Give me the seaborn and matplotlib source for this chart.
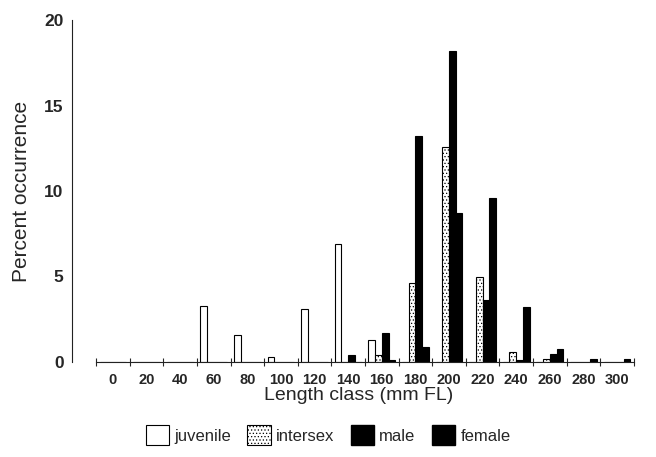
import numpy as np
import pandas as pd
import seaborn as sns
import matplotlib.pyplot as plt
from matplotlib.patches import Patch

# length classes (mm FL) and percent occurrence by group
length_classes = [0, 20, 40, 60, 80, 100, 120, 140, 160, 180, 200, 220, 240, 260, 280, 300]
juvenile = [0, 0, 0, 3.3, 1.6, 0.3, 3.1, 6.9, 1.3, 0, 0, 0, 0, 0, 0, 0]
intersex = [0, 0, 0, 0, 0, 0, 0, 0, 0.4, 4.6, 12.6, 5.0, 0.6, 0.15, 0, 0]
male = [0, 0, 0, 0, 0, 0, 0, 0.4, 1.7, 13.2, 18.2, 3.6, 0.1, 0.45, 0, 0]
female = [0, 0, 0, 0, 0, 0, 0, 0, 0.1, 0.9, 8.7, 9.6, 3.2, 0.75, 0.15, 0.15]

groups = ['juvenile', 'intersex', 'male', 'female']
colours = {'juvenile': 'white', 'intersex': 'white', 'male': 'black', 'female': 'black'}

df = pd.DataFrame({
    'length': [str(v) for v in length_classes] * 4,
    'group': np.repeat(groups, len(length_classes)),
    'percent': juvenile + intersex + male + female,
})

sns.set_style('white')
plt.rcParams['font.family'] = ['Liberation Sans', 'DejaVu Sans']
plt.rcParams['hatch.linewidth'] = 0.5

fig, ax = plt.subplots(figsize=(6.56, 4.57), dpi=100)
fig.subplots_adjust(left=72 / 656, right=1.0, bottom=1 - 362 / 457, top=1 - 20 / 457)

sns.barplot(
    data=df, x='length', y='percent', hue='group', hue_order=groups,
    palette=colours, width=0.8, errorbar=None, edgecolor='black',
    linewidth=0.8, legend=False, ax=ax,
)
# intersex is stippled in the original
for bar in ax.containers[1]:
    bar.set_hatch('.....')

ax.set_xlim(-1.22, 16.16)
ax.set_ylim(0, 20)

for side in ['top', 'right']:
    ax.spines[side].set_visible(False)
ax.spines['left'].set_linewidth(0.8)
ax.spines['left'].set_color('#222222')
# baseline only runs under the length classes
ax.spines['bottom'].set_bounds(-0.5, len(length_classes) - 0.5)
ax.spines['bottom'].set_linewidth(0.8)
ax.spines['bottom'].set_color('#222222')

ax.set_yticks([0, 5, 10, 15, 20])
ax.tick_params(axis='y', direction='in', length=3, width=0.7, pad=6, labelsize=12.5)
ax.set_xticks(range(len(length_classes)))
ax.set_xticklabels([str(v) for v in length_classes])
ax.set_xticks(np.arange(-0.5, len(length_classes), 1), minor=True)
ax.tick_params(axis='x', which='major', length=0, pad=8, labelsize=10.5)
ax.tick_params(axis='x', which='minor', direction='inout', length=6, width=0.8, bottom=True)
for lab in ax.get_xticklabels() + ax.get_yticklabels():
    lab.set_fontweight('bold')

ax.set_xlabel('Length class (mm FL)', fontsize=14)
ax.xaxis.set_label_coords(0.49, -0.072)
ax.set_ylabel('Percent occurrence', fontsize=15)
ax.yaxis.set_label_coords(-0.07, 0.5)

handles = [
    Patch(facecolor='white', edgecolor='black', linewidth=0.8),
    Patch(facecolor='white', edgecolor='black', linewidth=0.8, hatch='.....'),
    Patch(facecolor='black', edgecolor='black'),
    Patch(facecolor='black', edgecolor='black'),
]
fig.legend(
    handles, groups, loc='center', bbox_to_anchor=(328 / 656, 1 - 435 / 457),
    ncol=4, frameon=False, fontsize=12, handlelength=1.4, handleheight=1.4,
    columnspacing=1.0, handletextpad=0.3,
)

plt.savefig('out.png', dpi=100)
